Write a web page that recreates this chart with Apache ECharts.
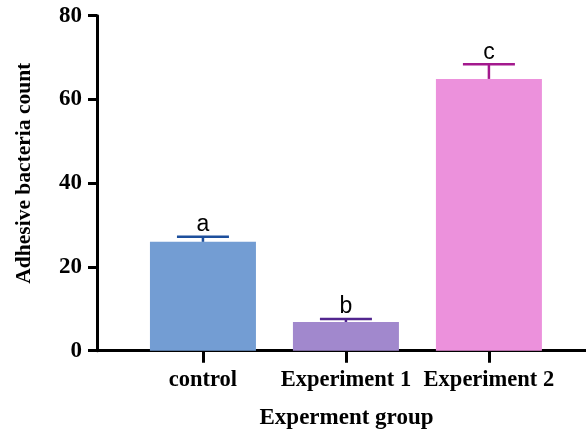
<!DOCTYPE html>
<html>
<head>
<meta charset="utf-8">
<script src="https://cdn.jsdelivr.net/npm/echarts@6/dist/echarts.min.js"></script>
<style>html,body{margin:0;padding:0;background:#fff;}#c{width:586px;height:431px;}</style>
</head>
<body>
<div id="c"></div>
<script>
var categories = ['control', 'Experiment 1', 'Experiment 2'];
var means = [26.0, 6.85, 64.9];
var errors = [1.2, 0.7, 3.5];
var letters = ['a', 'b', 'c'];
var barColors = ['#739dd3', '#a188cd', '#ec91dc'];
var errColors = ['#1d4f9c', '#52268f', '#a3198d'];
var yTicks = [0, 20, 40, 60, 80];

var chart = echarts.init(document.getElementById('c'));
var serif = '"Liberation Serif", "Times New Roman", serif';
var idx = categories.map(function (c, i) { return i; });

chart.setOption({
  backgroundColor: '#ffffff',
  animation: false,
  grid: { left: 97, right: 0, top: 15.7, bottom: 80.3, containLabel: false, outerBoundsMode: 'none' },
  xAxis: {
    type: 'value',
    min: -0.741, max: 2.679,
    name: 'Experment group',
    nameLocation: 'middle',
    nameGap: 56,
    nameTextStyle: { fontFamily: serif, fontWeight: 'bold', fontSize: 23, color: '#000', padding: [0, 0, 0, 10] },
    axisLine: { show: true, onZero: false, lineStyle: { color: '#000', width: 3 } },
    axisTick: { show: true, customValues: idx, length: 12, lineStyle: { color: '#000', width: 3 } },
    axisLabel: {
      customValues: idx, margin: 18,
      formatter: function (v) { return categories[Math.round(v)]; },
      fontFamily: serif, fontWeight: 'bold', fontSize: 22.5, color: '#000'
    },
    splitLine: { show: false }
  },
  yAxis: {
    type: 'value', min: 0, max: 80, interval: 20,
    name: 'Adhesive bacteria count',
    nameLocation: 'middle',
    nameGap: 62,
    nameTextStyle: { fontFamily: serif, fontWeight: 'bold', fontSize: 21.5, color: '#000', padding: [0, 0, 0, 20] },
    axisLine: { show: true, onZero: false, lineStyle: { color: '#000', width: 3 } },
    axisTick: { show: true, length: 9, lineStyle: { color: '#000', width: 3 } },
    axisLabel: {
      margin: 15, fontFamily: serif, fontWeight: 'bold', fontSize: 23, color: '#000',
      formatter: function (v) { return yTicks.indexOf(v) >= 0 ? String(v) : ''; }
    },
    splitLine: { show: false }
  },
  series: [
    {
      type: 'bar',
      barWidth: 106,
      data: means.map(function (m, i) {
        return { value: [i, m], itemStyle: { color: barColors[i] } };
      }),
      z: 2
    },
    {
      type: 'custom',
      z: 3,
      data: means.map(function (m, i) { return [i, m, m + errors[i]]; }),
      renderItem: function (params, api) {
        var i = params.dataIndex;
        var base = api.coord([api.value(0), api.value(1)]);
        var top = api.coord([api.value(0), api.value(2)]);
        var half = 26;
        var col = errColors[i];
        return {
          type: 'group',
          children: [
            { type: 'line', shape: { x1: base[0], y1: base[1], x2: top[0], y2: top[1] },
              style: { stroke: col, lineWidth: 2.5 } },
            { type: 'line', shape: { x1: top[0] - half, y1: top[1], x2: top[0] + half, y2: top[1] },
              style: { stroke: col, lineWidth: 2.5 } },
            { type: 'text', x: top[0], y: top[1] - 12,
              style: { text: letters[i], fontFamily: '"Liberation Sans", Arial, sans-serif',
                fontSize: 23, fill: '#000', align: 'center', verticalAlign: 'middle' } }
          ]
        };
      }
    }
  ]
});
</script>
</body>
</html>
